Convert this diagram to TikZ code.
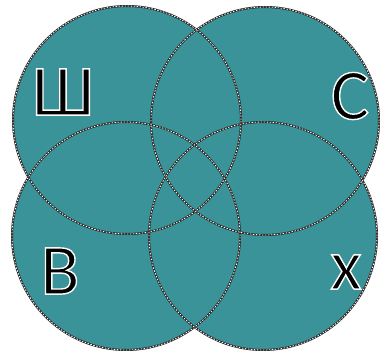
\documentclass[tikz,border=0pt]{standalone}
\usepackage{fontspec}
\setmainfont{Carlito}
\definecolor{discfill}{RGB}{58,147,152}
% letter with a thin white edge (fill, then white stroke)
\newcommand{\edged}[1]{\special{pdf:literal direct 2 Tr 1.4 w 1 1 1 RG}#1\special{pdf:literal direct 0 Tr}}

\begin{document}
\begin{tikzpicture}[x=1pt,y=1pt,
		ring/.style={draw=black!85, line width=2pt},
		ringdash/.style={draw=white, line width=0.8pt, dash pattern=on 1.5pt off 1.5pt},
		letter/.style={font=\fontsize{72}{72}\selectfont, inner sep=0pt}]
		
		\useasboundingbox (0,0) rectangle (386,351);
		
		% Fill the four discs
		\foreach \cx/\cy in {127/231, 265/230, 126/115, 263/115}{
			\fill[discfill] (\cx,\cy) circle (114);
		}
		
		% Outlines on top of every fill
		\foreach \cx/\cy in {127/231, 265/230, 126/115, 263/115}{
			\draw[ring] (\cx,\cy) circle (114);
			\draw[ringdash] (\cx,\cy) circle (114);
		}
		
		% Letters
		\node[letter] (sha) at (63,259) {\edged{Ш}};
		\node[letter] (es) at (350,255) {\edged{С}};
		\node[letter] (ve) at (60,80) {\edged{В}};
		\node[letter] (kha) at (346,79) {\edged{х}};
	\end{tikzpicture}
\end{document}
